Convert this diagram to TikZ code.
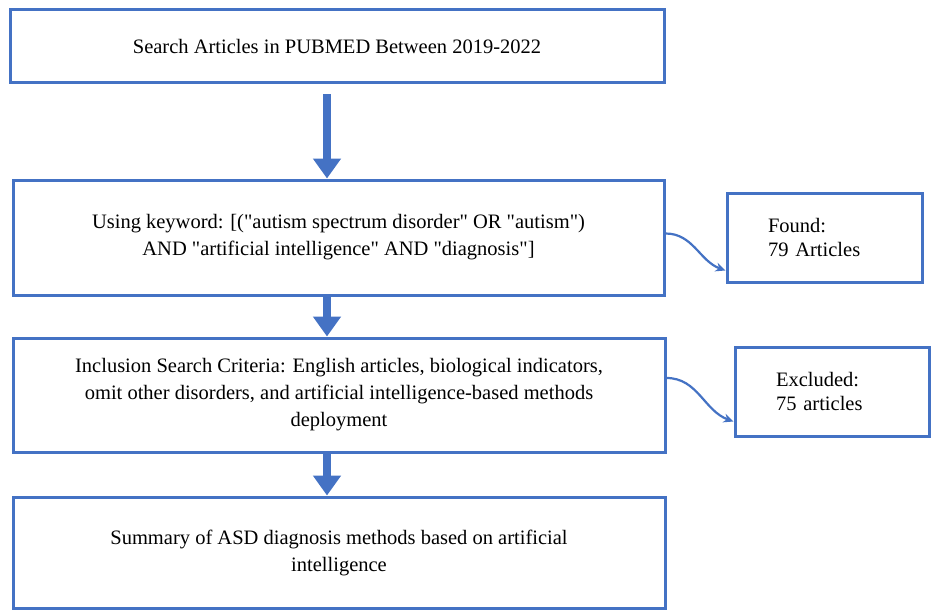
\documentclass[tikz,border=0pt]{standalone}
\usepackage{fontspec}
\setmainfont{Liberation Serif}[Ligatures=TeXOff]
\usetikzlibrary{arrows.meta, positioning, calc}
\definecolor{boxblue}{RGB}{68,114,196}

\begin{document}
\begin{tikzpicture}[x=1pt, y=-1pt, font=\fontsize{20.5}{27}\selectfont,
    b/.style={draw=boxblue, line width=3pt, align=center, inner sep=0pt},
    sb/.style={draw=boxblue, line width=3pt, align=left, inner xsep=41pt, inner ysep=0pt,
        minimum height=89pt, font=\fontsize{20.5}{24}\selectfont},
    flow/.style={draw=boxblue, line width=8pt, -{Triangle[width=27pt,length=20pt]}},
    side/.style={draw=boxblue, line width=2.2pt, -{Stealth[length=10pt,width=9pt]}}
]
    \useasboundingbox (0,0) rectangle (935,610);
    \fill[white] (0,0) rectangle (935,610);
    \coordinate (axis) at (327,0);

    \node[b, minimum width=654pt, minimum height=73pt] (pubmed) at (337,46.5)
        {Search Articles in PUBMED Between 2019-2022};
    \node[b, minimum width=651pt, minimum height=115pt] (keyword) at (338.5,237.5)
        {Using keyword: [("autism spectrum disorder" OR "autism")\\
         AND "artificial intelligence" AND "diagnosis"]};
    \node[b, minimum width=652pt, minimum height=114pt] (inclusion) at (339,395)
        {Inclusion Search Criteria: English articles, biological indicators,\\
         omit other disorders, and artificial intelligence-based methods\\
         deployment};
    \node[b, minimum width=652pt, minimum height=111pt] (summary) at (339,552.5)
        {Summary of ASD diagnosis methods based on artificial\\ intelligence};

    \node[sb, text width=113pt] (found) at (824.5,237.5) {Found:\\79 Articles};
    \node[sb, text width=112pt] (excluded) at (832,391.5) {Excluded:\\75 articles};

    % main flow
    \draw[flow, shorten <=10pt] (pubmed.south -| axis) -- (keyword.north -| axis);
    \draw[flow] (keyword.south -| axis) -- (inclusion.north -| axis);
    \draw[flow] (inclusion.south -| axis) -- (summary.north -| axis);

    % side results
    \draw[side] ([yshift=4pt]keyword.east) to[out=0, in=160] ([yshift=-33pt]found.west);
    \draw[side] ([yshift=17pt]inclusion.east) to[out=0, in=160] ([yshift=-30pt]excluded.west);
\end{tikzpicture}
\end{document}
